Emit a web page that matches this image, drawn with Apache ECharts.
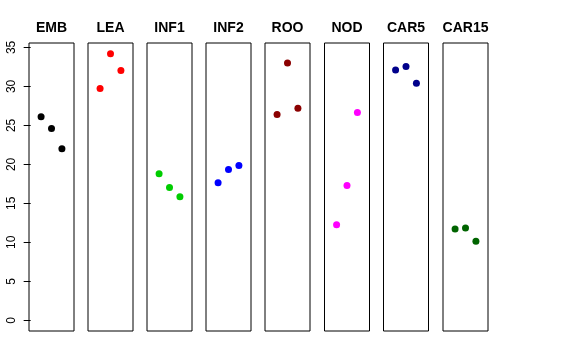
<!DOCTYPE html>
<html>
<head>
<meta charset="utf-8">
<script src="https://cdn.jsdelivr.net/npm/echarts@6/dist/echarts.min.js"></script>
<style>html,body{margin:0;padding:0;background:#fff}#c{width:576px;height:360px}</style>
</head>
<body>
<div id="c"></div>
<script>
const categories = ['EMB', 'LEA', 'INF1', 'INF2', 'ROO', 'NOD', 'CAR5', 'CAR15'];
const colors = ['#000000', '#FF0000', '#00CD00', '#0000FF', '#8B0000', '#FF00FF', '#00008B', '#006400'];
const EMB = [26.1, 24.6, 22.0];
const LEA = [29.75, 34.2, 32.05];
const INF1 = [18.8, 17.05, 15.85];
const INF2 = [17.65, 19.35, 19.85];
const ROO = [26.4, 33.0, 27.2];
const NOD = [12.25, 17.3, 26.65];
const CAR5 = [32.1, 32.55, 30.4];
const CAR15 = [11.7, 11.85, 10.15];
const values = [EMB, LEA, INF1, INF2, ROO, NOD, CAR5, CAR15];
const yTicks = [0, 5, 10, 15, 20, 25, 30, 35];

const lefts = [29, 88, 147, 206, 265, 324.5, 383.5, 443];
const W = 45, TOP = 43, H = 288;
const FONT = 'Liberation Sans, Arial, Helvetica, sans-serif';

const grid = [], xAxis = [], yAxis = [], series = [], title = [];
categories.forEach((cat, i) => {
  grid.push({left: lefts[i], top: TOP, width: W, height: H, show: true,
    borderColor: '#000', borderWidth: 1, backgroundColor: 'transparent', containLabel: false});
  xAxis.push({type: 'value', gridIndex: i, min: -0.16, max: 4.16, show: false});
  yAxis.push({type: 'value', gridIndex: i, min: -1.37, max: 35.57,
    show: i === 0,
    splitLine: {show: false},
    axisLine: {show: false},
    axisTick: {show: i === 0, length: 7, customValues: yTicks, lineStyle: {color: '#000'}},
    axisLabel: {show: i === 0, customValues: yTicks, rotate: 90, fontSize: 12, color: '#000',
      fontFamily: FONT, margin: 11}
  });
  series.push({type: 'scatter', xAxisIndex: i, yAxisIndex: i, symbol: 'circle', symbolSize: 7,
    itemStyle: {color: colors[i], opacity: 1}, silent: true,
    data: values[i].map((v, k) => [k + 1, v])});
  title.push({text: cat, left: lefts[i] + W / 2, top: 21, textAlign: 'center',
    textStyle: {fontSize: 14, fontWeight: 'bold', color: '#000', fontFamily: FONT}, padding: 0});
});

const chart = echarts.init(document.getElementById('c'), null, {renderer: 'canvas'});
chart.setOption({animation: false, title, grid, xAxis, yAxis, series});
</script>
</body>
</html>
